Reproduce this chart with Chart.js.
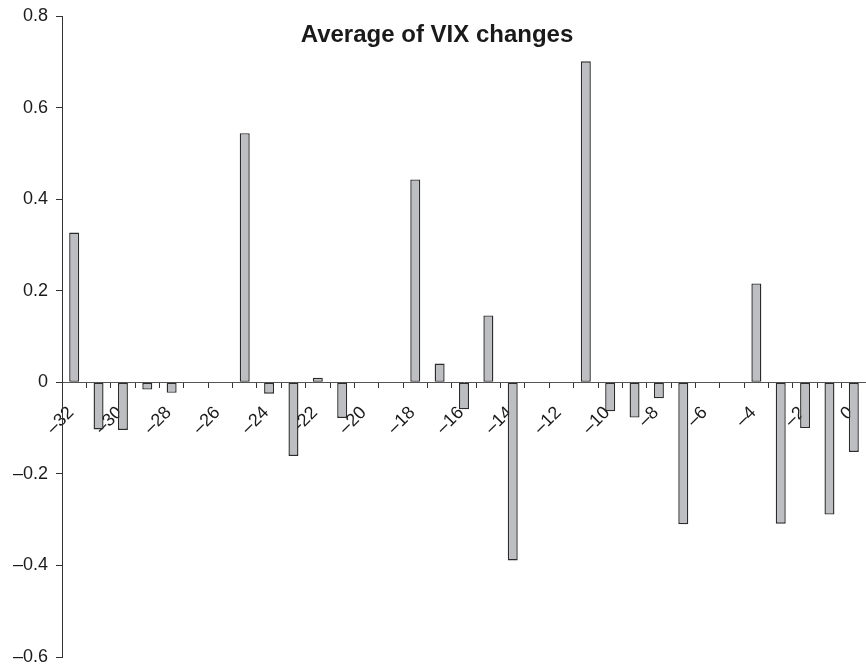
<!DOCTYPE html>
<html>
<head>
<meta charset="utf-8">
<script src="https://cdn.jsdelivr.net/npm/chart.js@4"></script>
<style>
  body { margin: 0; background: #fff; }
  #wrap { width: 866px; height: 667px; position: relative; }
</style>
</head>
<body>
<div id="wrap"><canvas id="vixChart"></canvas></div>
<script>
// days relative to event, -32 .. 0
const days = [-32, -31, -30, -29, -28, -27, -26, -25, -24, -23, -22, -21, -20, -19, -18, -17,
    -16, -15, -14, -13, -12, -11, -10, -9, -8, -7, -6, -5, -4, -3, -2, -1, 0];
const avgChange = [0.327, -0.103, -0.104, -0.016, -0.023, null, null, 0.544, -0.025, -0.161,
    0.010, -0.078, null, null, 0.443, 0.041, -0.059, 0.146, -0.389, null, null, 0.701,
    -0.063, -0.077, -0.035, -0.310, null, null, 0.216, -0.309, -0.100, -0.289, -0.152];
const yTicks = [-0.6, -0.4, -0.2, 0, 0.2, 0.4, 0.6, 0.8];
const chartTitle = 'Average of VIX changes';

const fmt = (v) => {
    if (Math.abs(v) < 1e-9) return '0';
    const s = Math.abs(v) % 1 === 0 ? String(Math.abs(v)) : Math.abs(v).toFixed(1);
    return v < 0 ? '\u2013' + s : s;
};

const font = "'Liberation Sans', Arial, Helvetica, sans-serif";

const innerTitle = {
    id: 'innerTitle',
    afterDraw(chart) {
        const ctx = chart.ctx;
        ctx.save();
        ctx.font = 'bold 24px ' + font;
        ctx.fillStyle = '#1a1a1a';
        ctx.textAlign = 'center';
        ctx.textBaseline = 'alphabetic';
        ctx.fillText(chartTitle, chart.width / 2 + 4, chart.chartArea.top + 26);
        ctx.restore();
    }
};

const ctx = document.getElementById('vixChart').getContext('2d');
new Chart(ctx, {
    type: 'bar',
    data: {
        labels: days,
        datasets: [{
            label: chartTitle,
            data: avgChange,
            backgroundColor: '#bdbec2',
            borderColor: '#2b2b2b',
            borderWidth: 1.4,
            borderSkipped: false,
            categoryPercentage: 1,
            barPercentage: 0.41
        }]
    },
    options: {
        responsive: true,
        maintainAspectRatio: false,
        animation: false,
        layout: { padding: { top: 16, right: 0, bottom: 10, left: 0 } },
        plugins: {
            legend: { display: false },
            tooltip: { enabled: false }
        },
        scales: {
            x: {
                position: { y: 0 },
                afterFit: (s) => {
                    s.height = 0;
                    s.paddingLeft = 0; s.paddingRight = 0;
                    s.paddingTop = 0; s.paddingBottom = 0;
                },
                grid: {
                    offset: true,
                    drawOnChartArea: false,
                    drawTicks: true,
                    tickLength: 5,
                    color: '#333'
                },
                border: { display: true, color: '#555', width: 1 },
                ticks: {
                    autoSkip: false,
                    minRotation: 45,
                    maxRotation: 45,
                    padding: 15,
                    labelOffset: -3,
                    color: '#1a1a1a',
                    font: { family: font, size: 18 },
                    callback: function (value, index) {
                        const d = days[index];
                        return d % 2 === 0 ? fmt(d) : '';
                    }
                }
            },
            y: {
                min: -0.6,
                max: 0.8,
                afterFit: (s) => {
                    s.width = 62;
                    s.paddingTop = 0; s.paddingBottom = 0;
                },
                afterBuildTicks: (s) => { s.ticks = yTicks.map(v => ({ value: v })); },
                grid: {
                    drawOnChartArea: false,
                    drawTicks: true,
                    tickLength: 6,
                    color: '#333'
                },
                border: { display: true, color: '#333', width: 1 },
                ticks: {
                    padding: 8,
                    color: '#1a1a1a',
                    font: { family: font, size: 18 },
                    callback: (v) => fmt(v)
                }
            }
        }
    },
    plugins: [innerTitle]
});
</script>
</body>
</html>
